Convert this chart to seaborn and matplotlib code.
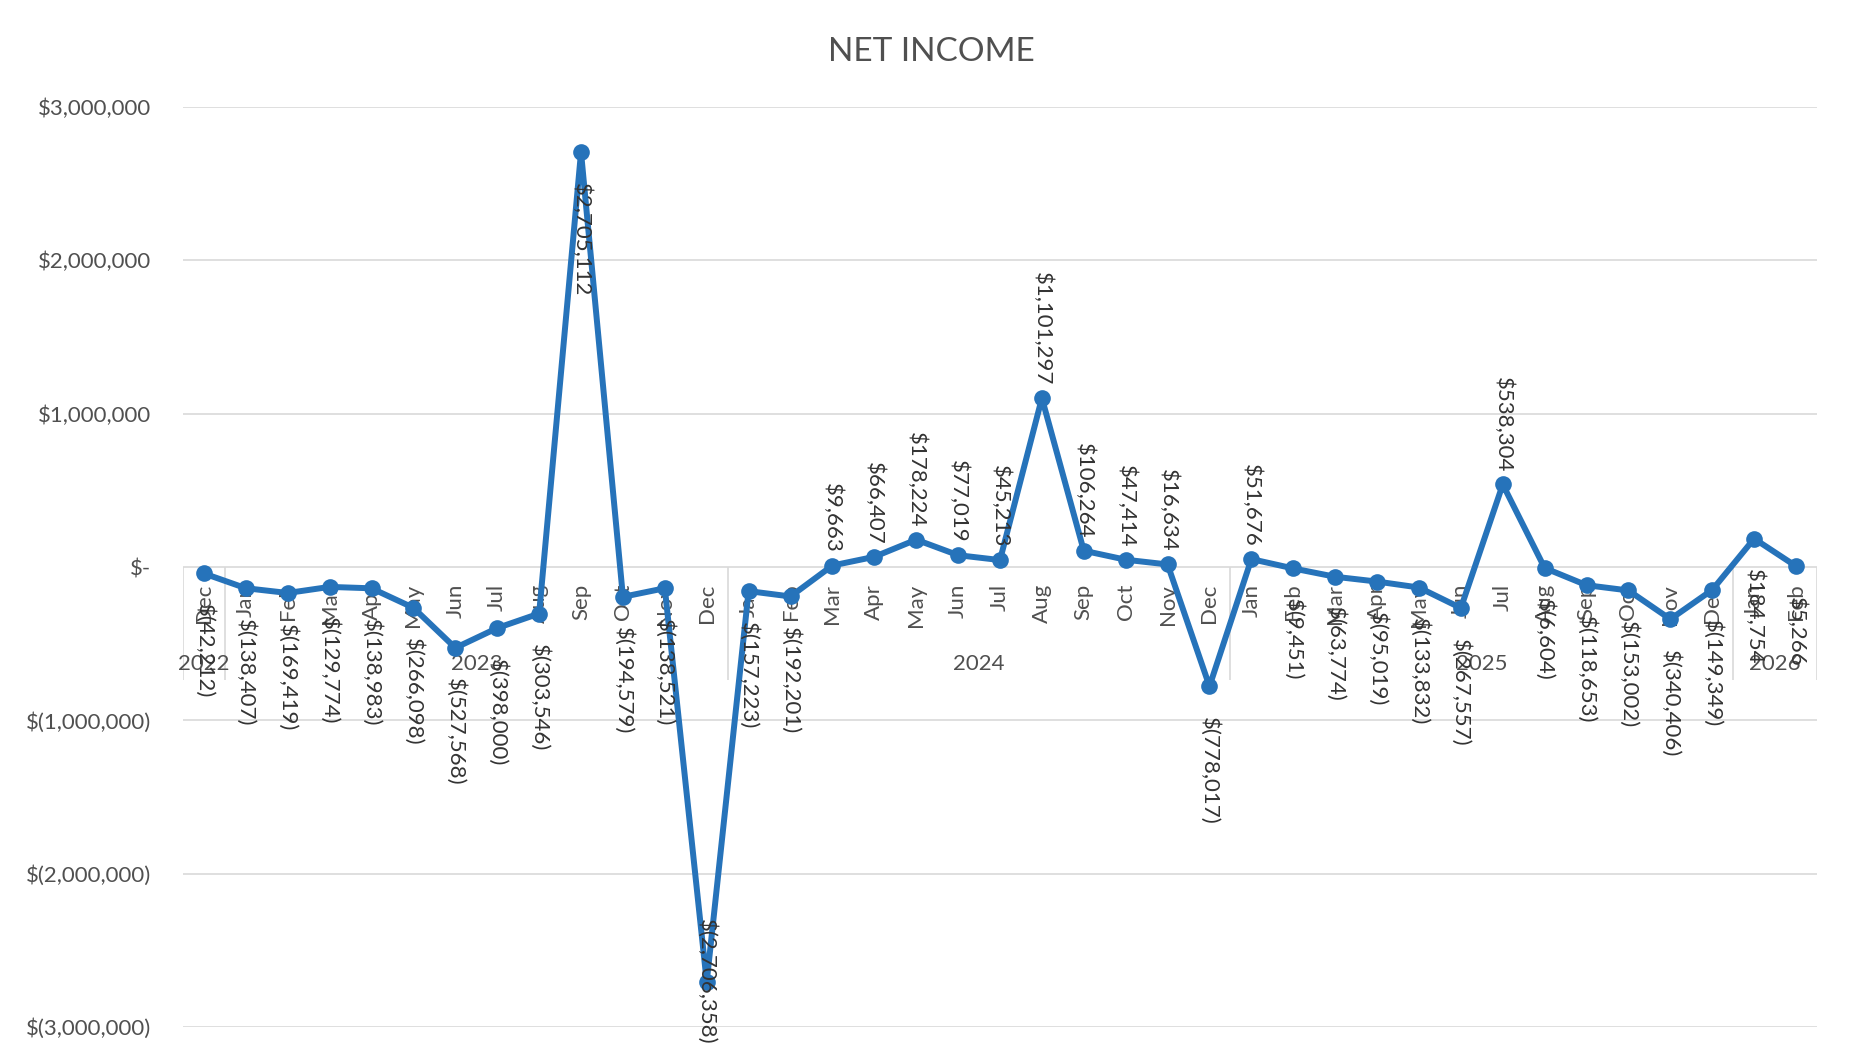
import matplotlib
matplotlib.use("Agg")
import matplotlib.pyplot as plt
import seaborn as sns
import pandas as pd
import numpy as np

# Monthly net income, Dec 2022 through Feb 2026
months = ["Dec",
          "Jan", "Feb", "Mar", "Apr", "May", "Jun", "Jul", "Aug", "Sep", "Oct", "Nov", "Dec",
          "Jan", "Feb", "Mar", "Apr", "May", "Jun", "Jul", "Aug", "Sep", "Oct", "Nov", "Dec",
          "Jan", "Feb", "Mar", "Apr", "May", "Jun", "Jul", "Aug", "Sep", "Oct", "Nov", "Dec",
          "Jan", "Feb"]
years = ["2022",
         "2023", "2023", "2023", "2023", "2023", "2023", "2023", "2023", "2023", "2023", "2023", "2023",
         "2024", "2024", "2024", "2024", "2024", "2024", "2024", "2024", "2024", "2024", "2024", "2024",
         "2025", "2025", "2025", "2025", "2025", "2025", "2025", "2025", "2025", "2025", "2025", "2025",
         "2026", "2026"]
net_income = [-42212,
              -138407, -169419, -129774, -138983, -266098, -527568, -398000, -303546,
              2705112, -194579, -138521, -2706358,
              -157223, -192201, 9663, 66407, 178224, 77019, 45213, 1101297,
              106264, 47414, 16634, -778017,
              51676, -9451, -63774, -95019, -133832, -267557, 538304, -6604,
              -118653, -153002, -340406, -149349,
              184754, 5266]
y_ticks = [-3000000, -2000000, -1000000, 0, 1000000, 2000000, 3000000]

# Labels that sit on the other side of their marker (or centred on it)
label_below = {9, 37, 38}
label_centred = {12}

df = pd.DataFrame({"idx": np.arange(len(net_income)), "month": months,
                   "year": years, "net_income": net_income})

LINE = "#2673BA"
GRID = "#D9D9D9"
TEXT = "#333333"
AXTEXT = "#505050"
FS = 16

sns.set_style("white")
plt.rcParams["font.family"] = ["Lato", "DejaVu Sans"]

fig = plt.figure(figsize=(18.56, 10.58), dpi=100)
ax = fig.add_axes([183 / 1856, 1 - 1027 / 1058, (1817 - 183) / 1856, (1027 - 107) / 1058])

sns.lineplot(data=df, x="idx", y="net_income", ax=ax, color=LINE, linewidth=4.3,
             marker="o", markersize=12, markeredgewidth=0, zorder=3)


def acct(v):
    if v == 0:
        return "$-"
    if v < 0:
        return "$({:,.0f})".format(-v)
    return "${:,.0f}".format(v)


ax.set_xlim(-0.5, len(net_income) - 0.5)
ax.set_ylim(-3000000, 3000000)
ax.set_yticks(y_ticks)
ax.set_yticklabels([acct(v) for v in y_ticks])
ax.tick_params(axis="y", length=0, pad=23, labelsize=FS, labelcolor=AXTEXT)
ax.set_xticks([])
ax.set_xlabel("")
ax.set_ylabel("")
ax.yaxis.grid(True, color=GRID, linewidth=1.2)
ax.set_axisbelow(True)
for s in ax.spines.values():
    s.set_visible(False)

# Data labels
for i, v in enumerate(net_income):
    if i in label_centred:
        off, va = 0, "center"
    elif i in label_below or v < 0:
        off, va = -22, "top"
    else:
        off, va = 9, "bottom"
    ax.annotate(acct(v), xy=(i, v), xytext=(0, off), textcoords="offset points",
                rotation=270, ha="center", va=va, fontsize=FS, color=TEXT, zorder=4)

# Month category labels hanging from the zero line
for i, m in enumerate(months):
    ax.annotate(m, xy=(i, 0), xytext=(0, -12), textcoords="offset points",
                rotation=90, ha="center", va="top", fontsize=FS, color=AXTEXT, zorder=2)

# Year group labels and separators
groups = df.groupby("year", sort=False)["idx"].agg(["min", "max"])
for yr, row in groups.iterrows():
    centre = (row["min"] + row["max"]) / 2
    ax.annotate(yr, xy=(centre, 0), xytext=(0, -70), textcoords="offset points",
                ha="center", va="center", fontsize=FS, color=AXTEXT, zorder=2)
bounds = [groups["min"].iloc[0] - 0.5] + list(groups["max"] + 0.5)
ax.vlines(bounds, -740000, 0, color=GRID, linewidth=1.2, zorder=1)

fig.text(931 / 1856, 1 - 52 / 1058, "NET INCOME", ha="center", va="center",
         fontsize=24, color=AXTEXT)

fig.savefig("out.png", dpi=100, facecolor="white")
